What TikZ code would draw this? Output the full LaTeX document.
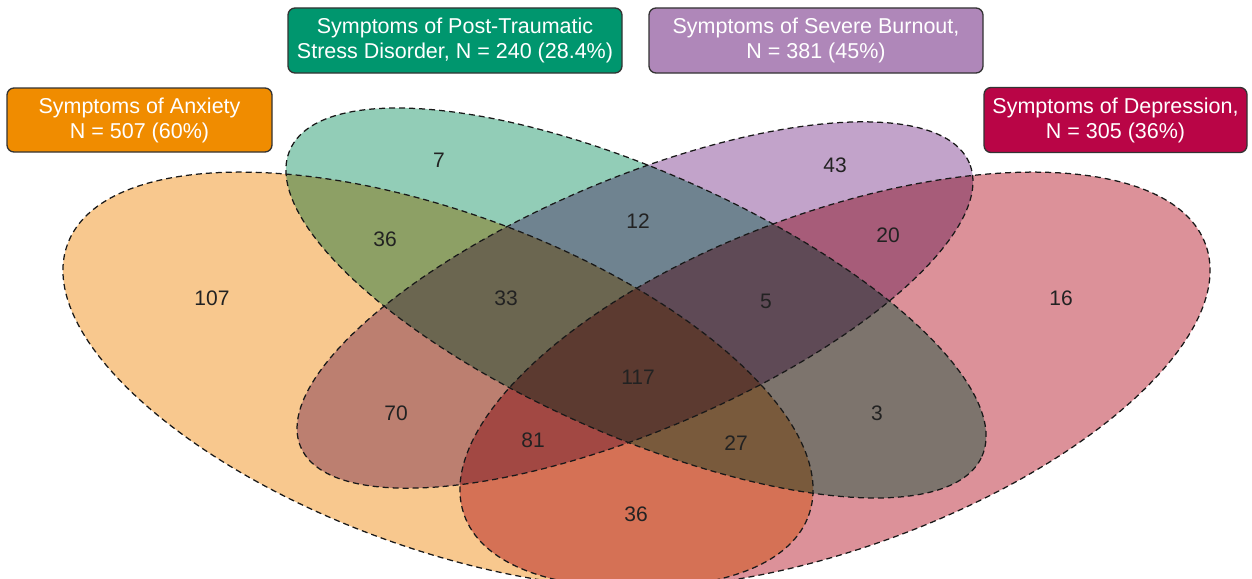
\documentclass[tikz,border=0pt]{standalone}
\usepackage{fontspec}
\setmainfont{Liberation Sans}
\definecolor{cAnx}{RGB}{240,140,0}
\definecolor{cPts}{RGB}{0,150,110}
\definecolor{cBur}{RGB}{175,135,185}
\definecolor{cDep}{RGB}{185,5,70}
\definecolor{cAnxF}{RGB}{248,200,142}
\definecolor{cPtsF}{RGB}{146,205,183}
\definecolor{cBurF}{RGB}{194,163,202}
\definecolor{cDepF}{RGB}{220,145,153}
\definecolor{cTxt}{RGB}{34,34,34}
\tikzset{
  outline/.style={draw=black!90, line width=1.25pt, dash pattern=on 6pt off 4pt},
  lbl/.style={rounded corners=7pt, draw=black!80, line width=1.3pt, text=white,
    align=center, font=\fontsize{21.5}{25}\selectfont, inner sep=0pt},
  num/.style={font=\fontsize{21}{21}\selectfont, text=cTxt, inner sep=0pt},
}
\begin{document}
\begin{tikzpicture}[x=1pt,y=-1pt]
\useasboundingbox (0,0) rectangle (1252,578);
\fill[white] (0,0) rectangle (1252,578);
\begin{scope}
\clip (0,0) rectangle (1252,578);
\begin{scope}[blend mode=multiply]
  \fill[cAnxF, rotate around={-20.1:(438,380)}] (438,380) ellipse [x radius=394.6pt, y radius=167.8pt];
  \fill[cPtsF, rotate around={-23.9:(636,303)}] (636,303) ellipse [x radius=378.4pt, y radius=131.8pt];
  \fill[cBurF, rotate around={23.0:(635,305)}] (635,305) ellipse [x radius=363.2pt, y radius=125.8pt];
  \fill[cDepF, rotate around={20.1:(835,380)}] (835,380) ellipse [x radius=394.6pt, y radius=167.8pt];
\end{scope}
\draw[outline, rotate around={-20.1:(438,380)}] (438,380) ellipse [x radius=394.6pt, y radius=167.8pt];
\draw[outline, rotate around={-23.9:(636,303)}] (636,303) ellipse [x radius=378.4pt, y radius=131.8pt];
\draw[outline, rotate around={23.0:(635,305)}] (635,305) ellipse [x radius=363.2pt, y radius=125.8pt];
\draw[outline, rotate around={20.1:(835,380)}] (835,380) ellipse [x radius=394.6pt, y radius=167.8pt];
\end{scope}

\node[lbl, fill=cAnx, minimum width=265pt, minimum height=64pt] (lAnx) at (139.5,120) {Symptoms of Anxiety\\N = 507 (60\%)};
\node[lbl, fill=cPts, minimum width=334pt, minimum height=65pt] (lPts) at (455,40.5) {Symptoms of Post-Traumatic\\Stress Disorder, N = 240 (28.4\%)};
\node[lbl, fill=cBur, minimum width=334pt, minimum height=65pt] (lBur) at (816,40.5) {Symptoms of Severe Burnout,\\N = 381 (45\%)};
\node[lbl, fill=cDep, minimum width=263pt, minimum height=65pt] (lDep) at (1115.5,120) {Symptoms of Depression,\\N = 305 (36\%)};

\node[num] (nA) at (212,298) {107};
\node[num] (nP) at (439,160) {7};
\node[num] (nAP) at (385,239) {36};
\node[num] (nPB) at (638,221) {12};
\node[num] (nB) at (835,165) {43};
\node[num] (nBD) at (888,235) {20};
\node[num] (nAPB) at (506,298) {33};
\node[num] (nPBD) at (766,301) {5};
\node[num] (nD) at (1061,298) {16};
\node[num] (nAll) at (638,377) {117};
\node[num] (nAB) at (396,413) {70};
\node[num] (nPD) at (877,413) {3};
\node[num] (nABD) at (533,440) {81};
\node[num] (nAPD) at (736,443) {27};
\node[num] (nAD) at (636,514) {36};
\end{tikzpicture}
\end{document}
